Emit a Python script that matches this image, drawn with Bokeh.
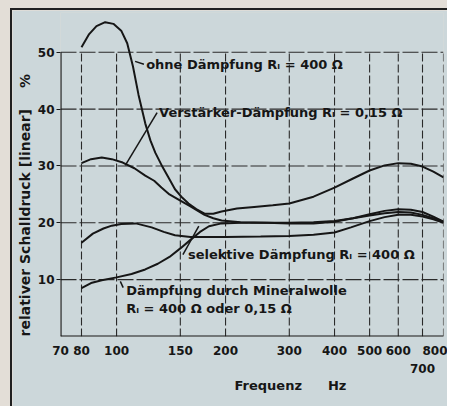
from bokeh.plotting import figure
from bokeh.layouts import column
from bokeh.models import (FixedTicker, LogAxis, PrintfTickFormatter, Label, Range1d, Title)
from bokeh.embed import file_html
from bokeh.resources import INLINE

# ---------------- data ----------------
x_ticks_row1 = [70, 80, 100, 150, 200, 300, 400, 500, 600, 800]
x_ticks_row2 = [700]
x_grid = [80, 100, 150, 200, 300, 400, 500, 600, 700, 800]
y_ticks = [10, 20, 30, 40, 50]

ohne_f = [80, 84, 88, 93, 98, 103, 107, 111, 115, 120, 124, 128, 134, 139, 145, 152, 158, 166, 175,
          185, 195, 215, 240, 270, 300, 350, 400, 450, 500, 550, 600, 650, 700, 750, 800]
ohne_v = [50.9, 53.2, 54.6, 55.3, 55.0, 53.8, 51.6, 47.5, 42.5, 37.5, 34.5, 32.3, 29.8, 28.0, 25.9,
          24.4, 23.4, 22.4, 21.6, 21.6, 22.0, 22.5, 22.8, 23.1, 23.4, 24.6, 26.2, 27.8, 29.2, 30.1,
          30.5, 30.4, 29.9, 29.0, 28.0]

verst_f = [80, 85, 91, 97, 104, 112, 120, 127, 133, 140, 150, 160, 175, 185, 195, 220, 260, 300,
           350, 400, 450, 500, 550, 600, 650, 700, 750, 800]
verst_v = [30.5, 31.2, 31.5, 31.2, 30.6, 29.6, 28.3, 27.4, 26.2, 25.0, 23.9, 22.9, 21.4, 20.8,
           20.4, 20.1, 20.0, 19.9, 19.9, 20.2, 20.8, 21.5, 22.1, 22.4, 22.3, 21.9, 21.1, 20.2]

sel_f = [80, 86, 92, 97, 103, 113, 125, 135, 145, 160, 200, 250, 300, 350, 400, 444, 500, 550,
         600, 650, 700, 750, 800]
sel_v = [16.5, 18.1, 19.0, 19.5, 19.8, 19.9, 19.2, 18.4, 17.8, 17.5, 17.5, 17.6, 17.7, 17.9, 18.3,
         19.2, 20.3, 21.0, 21.4, 21.4, 21.1, 20.6, 20.0]

min_f = [80, 85, 91, 100, 110, 120, 130, 140, 150, 160, 170, 180, 195, 220, 300, 350, 400, 450,
         500, 550, 600, 650, 700, 750, 800]
min_v = [8.5, 9.4, 9.9, 10.4, 11.0, 11.8, 12.8, 14.0, 15.5, 17.0, 18.4, 19.4, 19.9, 20.0, 20.0,
         20.1, 20.3, 20.8, 21.3, 21.7, 21.9, 21.8, 21.4, 20.8, 20.2]

# ---------------- style ----------------
BG = "#ccd7da"
OUTER = "#e3ded7"
INK = "#161616"
FONT = "DejaVu Sans"

p = figure(width=437, height=398, x_axis_type="log",
           x_range=Range1d(70, 800), y_range=Range1d(0, 57),
           output_backend="svg", toolbar_location=None,
           min_border_left=47, min_border_right=6, min_border_top=2, min_border_bottom=72,
           background_fill_color=BG, border_fill_color=BG, outline_line_color=None)
p.xgrid.visible = False
p.ygrid.visible = False
p.margin = (8, 0, 0, 10)
p.styles = {"border-left": "2px solid #202020", "border-top": "2px solid #202020"}

y0, y1 = 0, max(y_ticks)
x0, x1 = x_ticks_row1[0], x_ticks_row1[-1]

# grid lines (limited to 0..50 like the original)
p.segment(x0=x_grid, y0=[y0] * len(x_grid), x1=x_grid, y1=[y1] * len(x_grid),
          line_color="#2a2a2a", line_width=1.1, line_dash="8 3")
p.segment(x0=[x0] * len(y_ticks), y0=y_ticks, x1=[x1] * len(y_ticks), y1=y_ticks,
          line_color="#2a2a2a", line_width=1.1, line_dash="16 3")
# axis frame lines
p.segment(x0=[x0], y0=[y0], x1=[x0], y1=[y1], line_color=INK, line_width=2.2)
p.segment(x0=[x0], y0=[y0], x1=[x1], y1=[y0], line_color=INK, line_width=2.2)

# curves
for f, v in [(ohne_f, ohne_v), (verst_f, verst_v), (sel_f, sel_v), (min_f, min_v)]:
    p.line(f, v, line_color=INK, line_width=2.0)

# leader lines
p.segment(x0=[112.5, 105.7, 152.5, 102.4], y0=[48.4, 30.1, 14.4, 9.7],
          x1=[119.0, 129.4, 168.7, 104.3], y1=[47.9, 39.4, 19.4, 8.6],
          line_color=INK, line_width=1.5)

# axes
xa = p.xaxis[0]
xa.ticker = FixedTicker(ticks=x_ticks_row1)
xa.formatter = PrintfTickFormatter(format="%d")
xa.axis_line_color = None
xa.major_tick_line_color = None
xa.minor_tick_line_color = None
xa.major_label_standoff = 3
xa.major_label_text_font = FONT
xa.major_label_text_font_size = "12px"
xa.major_label_text_font_style = "bold"
xa.major_label_text_color = INK

xa2 = LogAxis(ticker=FixedTicker(ticks=x_ticks_row2), formatter=PrintfTickFormatter(format="%d"),
              axis_line_color=None, major_tick_line_color=None, minor_tick_line_color=None,
              major_label_standoff=0, major_label_text_font=FONT,
              major_label_text_font_size="12px", major_label_text_font_style="bold",
              major_label_text_color=INK)
p.add_layout(xa2, "below")

ya = p.yaxis[0]
ya.ticker = FixedTicker(ticks=y_ticks)
ya.axis_line_color = None
ya.major_tick_out = 4
ya.major_tick_in = 0
ya.major_tick_line_color = INK
ya.minor_tick_line_color = None
ya.major_label_standoff = 2
ya.major_label_text_font = FONT
ya.major_label_text_font_size = "12px"
ya.major_label_text_font_style = "bold"
ya.major_label_text_color = INK

p.add_layout(Title(text="relativer Schalldruck [linear]\u2003\u2002%", align="left", offset=0,
                   standoff=4, text_font=FONT, text_font_size="14px", text_font_style="bold",
                   text_color=INK), "left")
p.add_layout(Title(text="Frequenz\u2003\u2003Hz", align="left", offset=174,
                   standoff=0, text_font=FONT, text_font_size="13px", text_font_style="bold",
                   text_color=INK), "below")


def lab(x, y, text):
    p.add_layout(Label(x=x, y=y, text=text, text_align="left",
                       text_baseline="middle", text_font=FONT, text_font_size="13px",
                       text_font_style="bold", text_color=INK))


lab(120.7, 47.9, "ohne Dämpfung  Rᵢ = 400 Ω")
lab(131.0, 39.4, "Verstärker-Dämpfung  Rᵢ = 0,15 Ω")
lab(157.4, 14.4, "selektive Dämpfung  Rᵢ = 400 Ω")
lab(106.3, 8.1, "Dämpfung durch Mineralwolle")
lab(106.3, 4.9, "Rᵢ = 400 Ω  oder 0,15 Ω")

page = column(p, styles={"background-color": OUTER})
open("out.html", "w").write(file_html(page, INLINE))
